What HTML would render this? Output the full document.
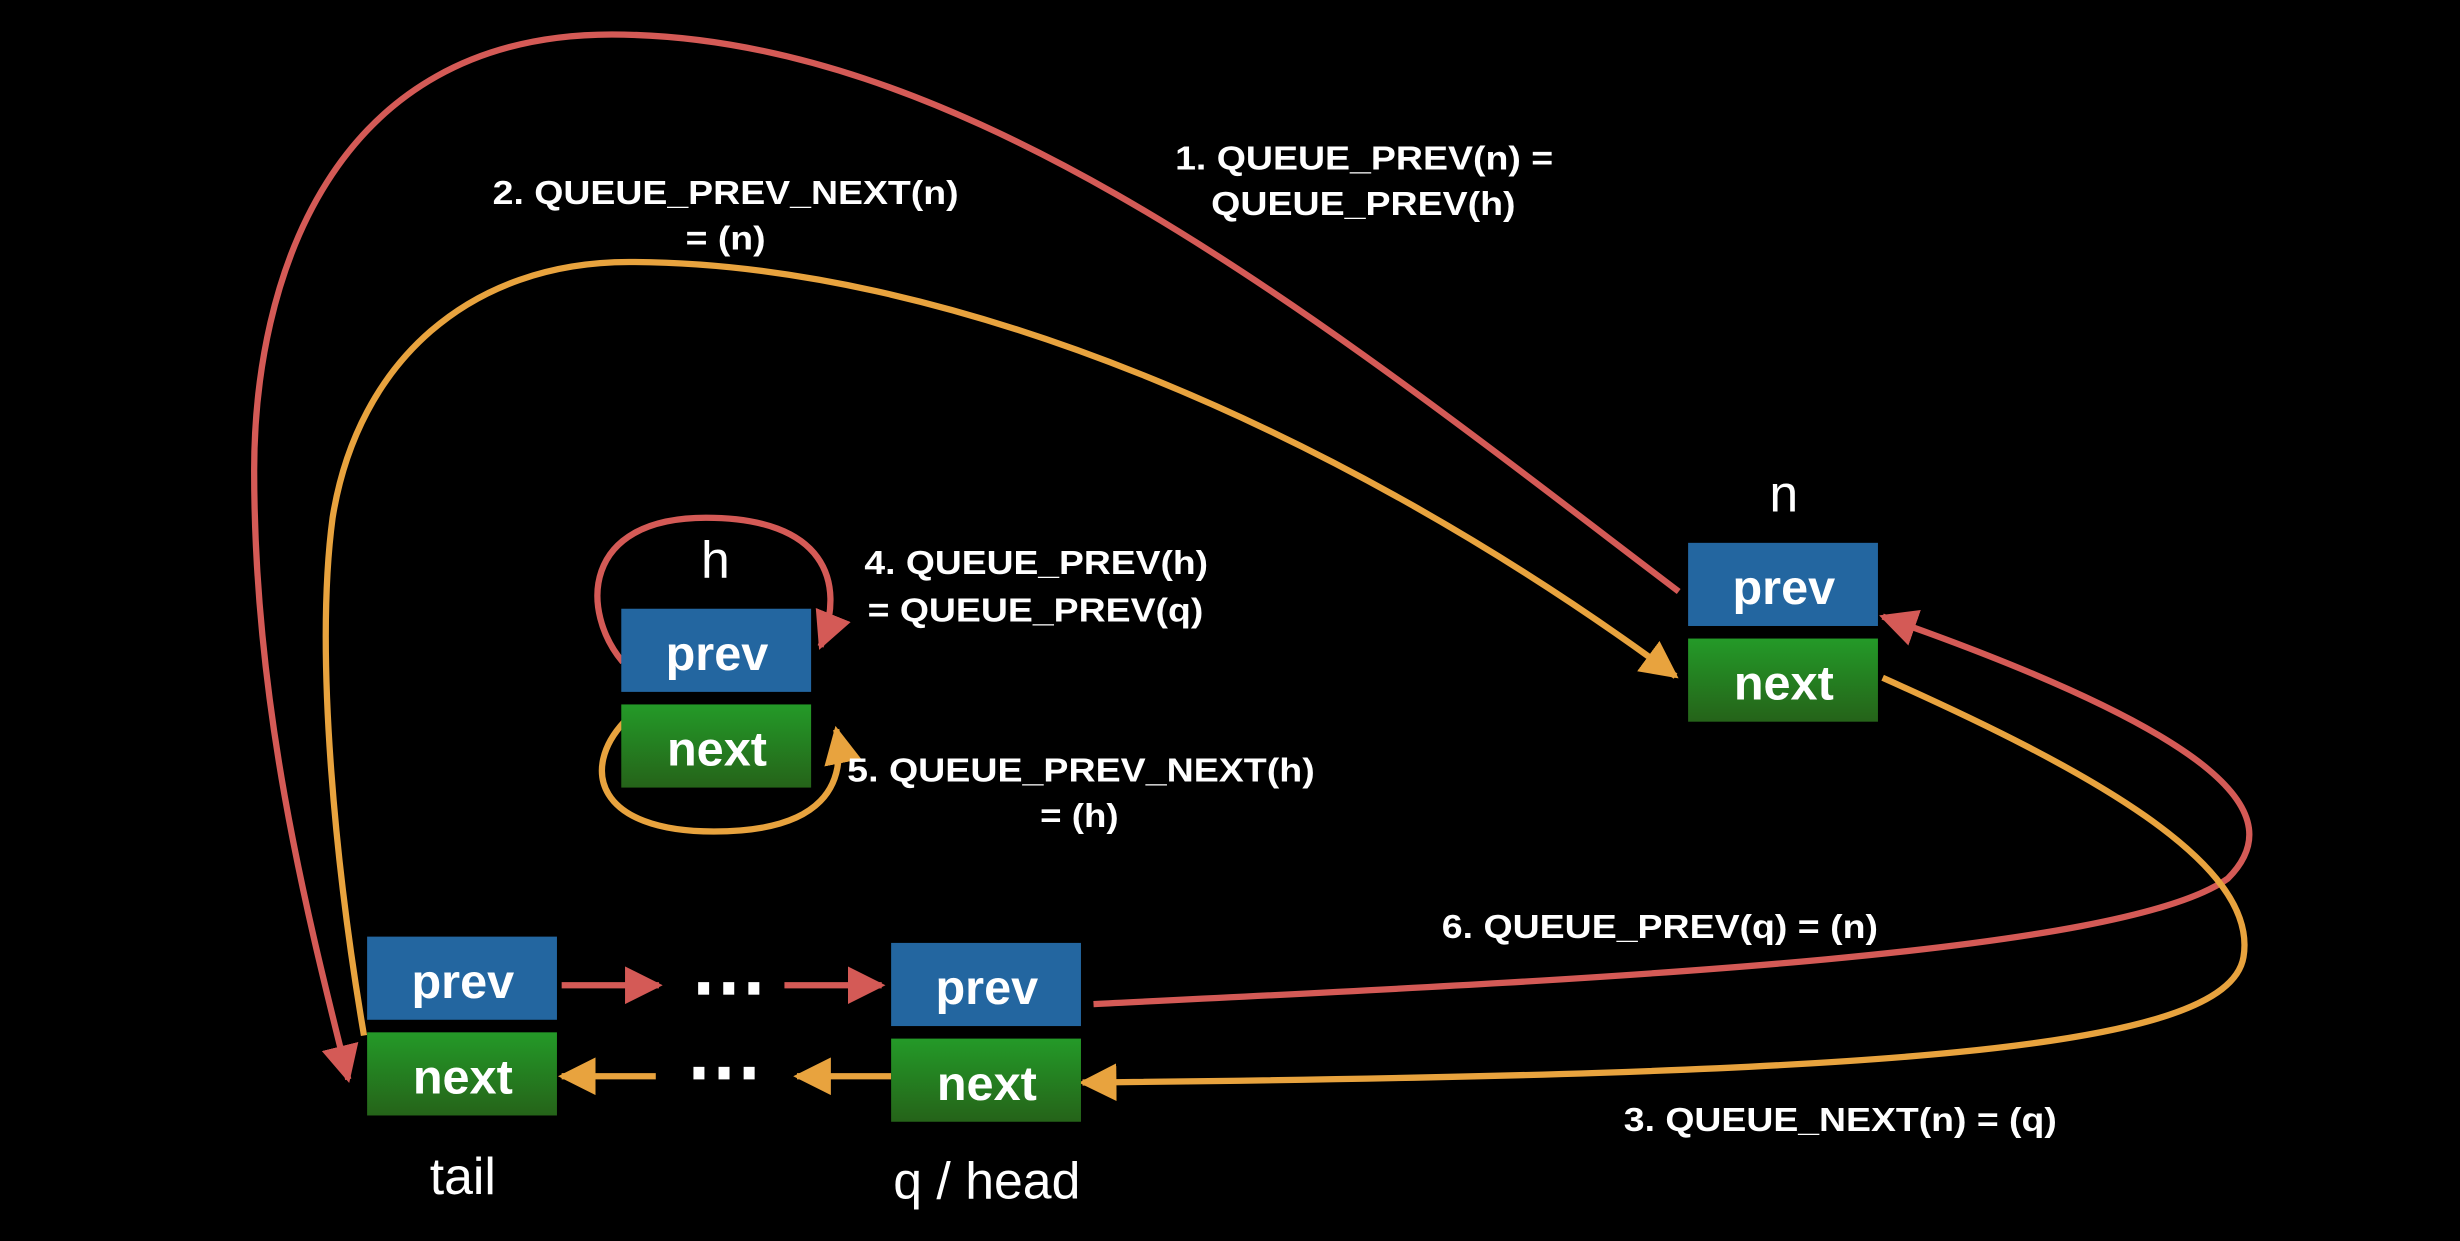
<!DOCTYPE html>
<html><head><meta charset="utf-8"><style>
html,body{margin:0;padding:0;background:#000;}
svg{display:block;}
.lbl{font-family:"Liberation Sans Narrow","Liberation Sans",sans-serif;font-weight:bold;fill:#fff;font-size:21px;}
.bx{font-family:"Liberation Sans",sans-serif;font-weight:bold;fill:#fff;font-size:31px;}
.nm{font-family:"Liberation Sans",sans-serif;fill:#fff;font-size:33px;}
</style></head><body>
<svg width="2460" height="1241" viewBox="0 0 1568 791">
<defs>
<linearGradient id="gg" x1="0" y1="0" x2="0" y2="1"><stop offset="0" stop-color="#249a28"/><stop offset="1" stop-color="#256319"/></linearGradient>
<marker id="mr" viewBox="0 0 10 10" refX="9" refY="5" markerWidth="6" markerHeight="6" orient="auto" markerUnits="strokeWidth"><path d="M0,0 L10,5 L0,10 z" fill="#d45a56"/></marker>
<marker id="mo" viewBox="0 0 10 10" refX="9" refY="5" markerWidth="6" markerHeight="6" orient="auto" markerUnits="strokeWidth"><path d="M0,0 L10,5 L0,10 z" fill="#e8a33e"/></marker>
</defs>
<rect width="1568" height="791" fill="#000"/>

<g fill="none" stroke-width="4">
<path stroke="#d45a56" marker-end="url(#mr)" d="M1070,377 C 850,210 620,22 390,22 C 210,22 162,180 162,300 C 162,450 195,580 222,688"/>
<path stroke="#e8a33e" marker-end="url(#mo)" d="M232,660 C 215,560 200,420 212,330 C 228,230 300,167 401,167 C 600,167 850,270 1068,431"/>
<path stroke="#d45a56" marker-end="url(#mr)" d="M697,640 C 1000,625 1350,610 1420,560 C 1460,520 1420,470 1200,393"/>
<path stroke="#e8a33e" marker-end="url(#mo)" d="M1200,432 C 1330,490 1440,550 1430,610 C 1420,670 1200,685 690,690"/>
<path stroke="#d45a56" marker-end="url(#mr)" d="M397,422 C 370,390 370,330 450,330 C 525,330 540,370 523,412"/>
<path stroke="#e8a33e" marker-end="url(#mo)" d="M398,460 C 370,490 380,530 455,530 C 525,530 540,500 533,465"/>
<path stroke="#d45a56" marker-end="url(#mr)" d="M358,628 L420,628"/>
<path stroke="#d45a56" marker-end="url(#mr)" d="M500,628 L562,628"/>
<path stroke="#e8a33e" marker-end="url(#mo)" d="M418,686 L358,686"/>
<path stroke="#e8a33e" marker-end="url(#mo)" d="M568,686 L508,686"/>
</g>

<g>
<rect x="1076" y="346" width="121" height="53" fill="#2366a0"/>
<rect x="1076" y="407" width="121" height="53" fill="url(#gg)"/>
<text class="bx" x="1137" y="385" text-anchor="middle">prev</text>
<text class="bx" x="1137" y="446" text-anchor="middle">next</text>
<text class="nm" x="1137" y="326" text-anchor="middle">n</text>
</g>
<g>
<rect x="396" y="388" width="121" height="53" fill="#2366a0"/>
<rect x="396" y="449" width="121" height="53" fill="url(#gg)"/>
<text class="bx" x="457" y="427" text-anchor="middle">prev</text>
<text class="bx" x="457" y="488" text-anchor="middle">next</text>
<text class="nm" x="456" y="368" text-anchor="middle">h</text>
</g>
<g>
<rect x="234" y="597" width="121" height="53" fill="#2366a0"/>
<rect x="234" y="658" width="121" height="53" fill="url(#gg)"/>
<text class="bx" x="295" y="636" text-anchor="middle">prev</text>
<text class="bx" x="295" y="697" text-anchor="middle">next</text>
<text class="nm" x="295" y="761" text-anchor="middle">tail</text>
</g>
<g>
<rect x="568" y="601" width="121" height="53" fill="#2366a0"/>
<rect x="568" y="662" width="121" height="53" fill="url(#gg)"/>
<text class="bx" x="629" y="640" text-anchor="middle">prev</text>
<text class="bx" x="629" y="701" text-anchor="middle">next</text>
<text class="nm" x="629" y="764" text-anchor="middle">q / head</text>
</g>
<g fill="#fff">
<rect x="445" y="626" width="7" height="8"/><rect x="461" y="626" width="7" height="8"/><rect x="477" y="626" width="7" height="8"/>
</g>
<g fill="#fff">
<rect x="442" y="680" width="7" height="8"/><rect x="458" y="680" width="7" height="8"/><rect x="474" y="680" width="7" height="8"/>
</g>

<g>
<text class="lbl" x="749" y="108" textLength="241" lengthAdjust="spacingAndGlyphs">1. QUEUE_PREV(n) =</text>
<text class="lbl" x="772" y="137" textLength="194" lengthAdjust="spacingAndGlyphs">QUEUE_PREV(h)</text>
<text class="lbl" x="314" y="130" textLength="297" lengthAdjust="spacingAndGlyphs">2. QUEUE_PREV_NEXT(n)</text>
<text class="lbl" x="437" y="159" textLength="51" lengthAdjust="spacingAndGlyphs">= (n)</text>
<text class="lbl" x="551" y="366" textLength="219" lengthAdjust="spacingAndGlyphs">4. QUEUE_PREV(h)</text>
<text class="lbl" x="553" y="396" textLength="214" lengthAdjust="spacingAndGlyphs">= QUEUE_PREV(q)</text>
<text class="lbl" x="540" y="498" textLength="298" lengthAdjust="spacingAndGlyphs">5. QUEUE_PREV_NEXT(h)</text>
<text class="lbl" x="663" y="527" textLength="50" lengthAdjust="spacingAndGlyphs">= (h)</text>
<text class="lbl" x="919" y="598" textLength="278" lengthAdjust="spacingAndGlyphs">6. QUEUE_PREV(q) = (n)</text>
<text class="lbl" x="1035" y="721" textLength="276" lengthAdjust="spacingAndGlyphs">3. QUEUE_NEXT(n) = (q)</text>
</g>
</svg>
</body></html>
